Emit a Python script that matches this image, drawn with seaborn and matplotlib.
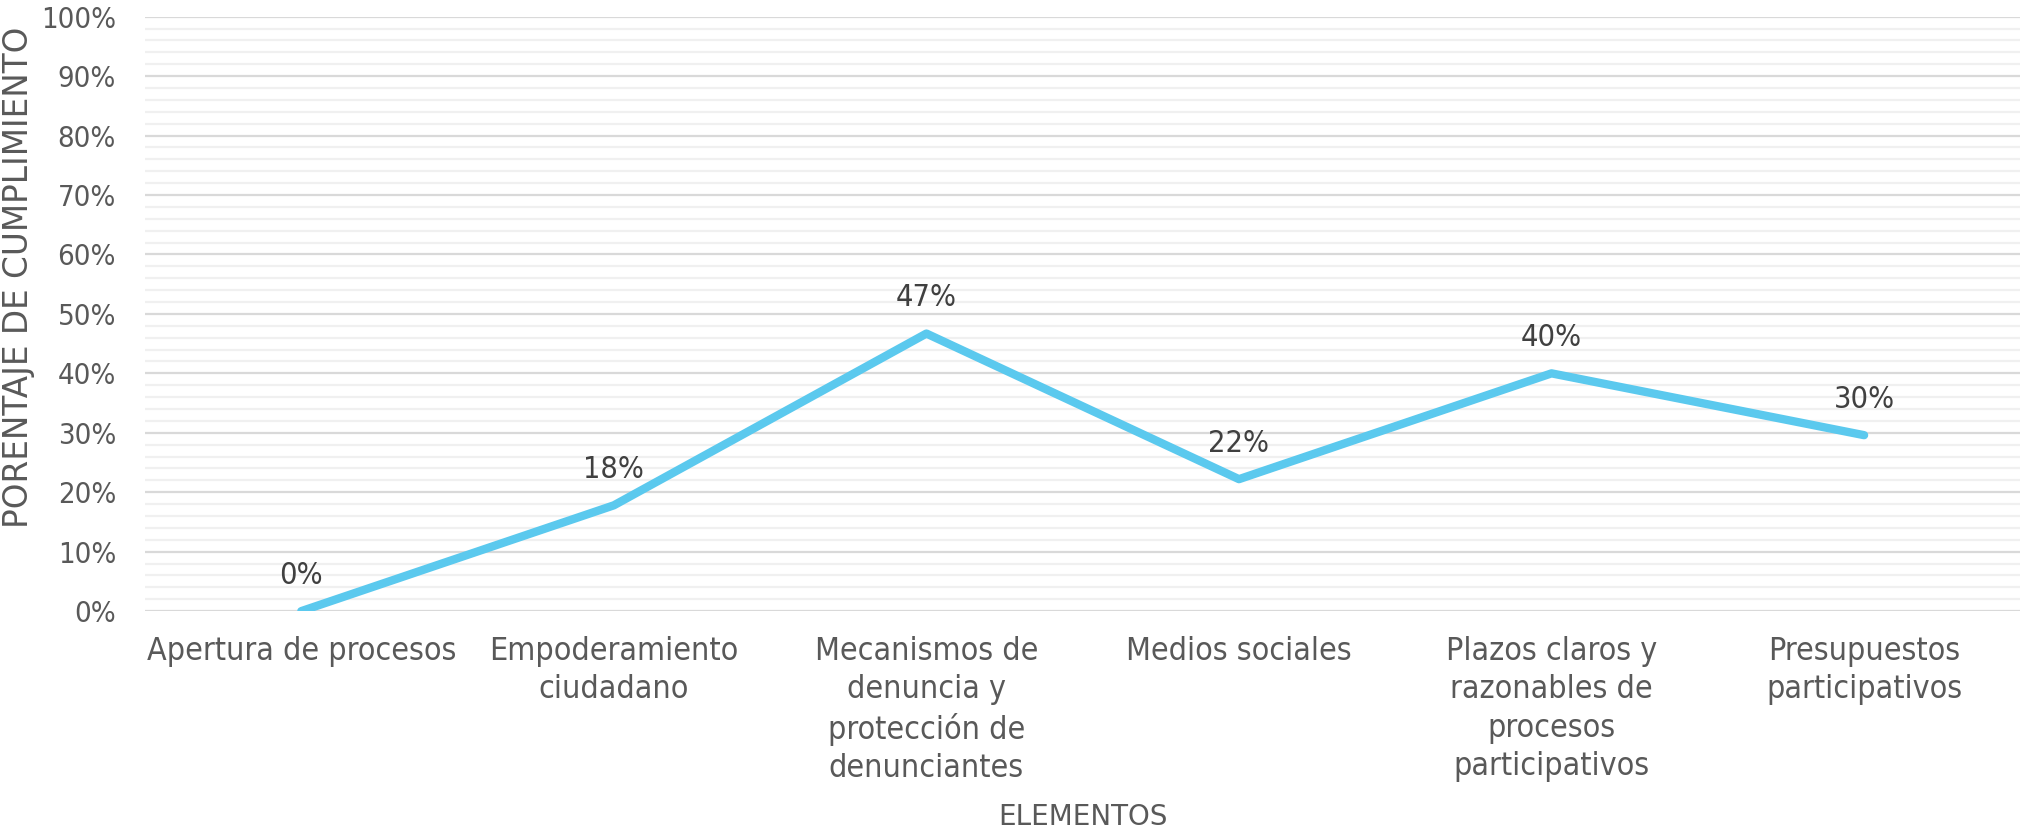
import numpy as np
import pandas as pd
import seaborn as sns
import matplotlib
matplotlib.use("Agg")
import matplotlib.pyplot as plt
from matplotlib.ticker import MultipleLocator, PercentFormatter
from matplotlib import font_manager

elementos = ["Apertura de procesos",
             "Empoderamiento\nciudadano",
             "Mecanismos de\ndenuncia y\nprotección de\ndenunciantes",
             "Medios sociales",
             "Plazos claros y\nrazonables de\nprocesos\nparticipativos",
             "Presupuestos\nparticipativos"]
cumplimiento = [0.0, 0.178, 0.467, 0.222, 0.40, 0.296]
etiquetas = ["0%", "18%", "47%", "22%", "40%", "30%"]

sns.set_style("white")
gris = "#595959"

# condensed face for ticks and data labels
fp_xticks = font_manager.FontProperties(family="DejaVu Sans", stretch="condensed", size=23)
fp_yticks = font_manager.FontProperties(family="DejaVu Sans", stretch="condensed", size=21)
fp_data = font_manager.FontProperties(family="DejaVu Sans", stretch="condensed", size=22)

df = pd.DataFrame({"elemento": elementos, "valor": cumplimiento})

fig = plt.figure(figsize=(20.23, 8.36), dpi=100)
ax = fig.add_axes([0.0717, 0.269, 0.927, 0.711])

sns.lineplot(data=df, x="elemento", y="valor", ax=ax, color="#5BC9EE",
             linewidth=6, sort=False, solid_capstyle="round")

for i, (v, t) in enumerate(zip(cumplimiento, etiquetas)):
    ax.annotate(t, (i, v), xytext=(0, 26), textcoords="offset points",
                ha="center", va="center", color="#404040",
                fontproperties=fp_data)

ax.set_xlim(-0.5, len(elementos) - 0.5)
ax.set_ylim(0, 1)
ax.yaxis.set_major_locator(MultipleLocator(0.1))
ax.yaxis.set_minor_locator(MultipleLocator(0.02))
ax.yaxis.set_major_formatter(PercentFormatter(1.0, decimals=0))
ax.grid(axis="y", which="major", color="#d9d9d9", linewidth=1.6)
ax.grid(axis="y", which="minor", color="#f0f0f0", linewidth=1.6)
ax.set_axisbelow(True)
for s in ax.spines.values():
    s.set_visible(False)

ax.tick_params(axis="both", which="both", length=0)
ax.tick_params(axis="y", pad=21)
ax.tick_params(axis="x", pad=18)
for lab in ax.get_yticklabels():
    lab.set_fontproperties(fp_yticks)
    lab.set_color(gris)
for lab in ax.get_xticklabels():
    lab.set_fontproperties(fp_xticks)
    lab.set_color(gris)
    lab.set_linespacing(1.3)

ax.set_xlabel("ELEMENTOS", fontsize=20, color=gris, va="center")
ax.set_ylabel("PORENTAJE DE CUMPLIMIENTO", fontsize=23.5, color=gris, va="center")
ax.xaxis.set_label_coords(0.5, -0.347)
ax.yaxis.set_label_coords(-0.0675, 0.562)

fig.savefig("out.png", dpi=100)
